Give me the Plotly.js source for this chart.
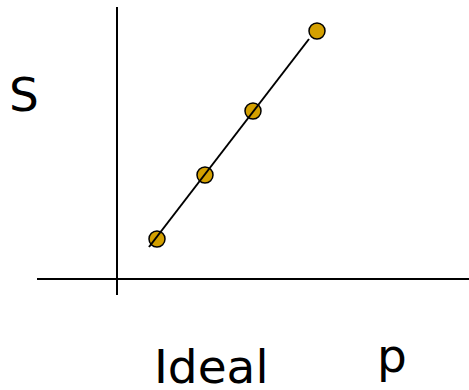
<!DOCTYPE html>
<html>
<head>
<meta charset="utf-8">
<script src="https://cdn.plot.ly/plotly-3.0.1.min.js"></script>
<style>
  html, body { margin:0; padding:0; background:#fff; }
  #chart { width:469px; height:390px; }
</style>
</head>
<body>
<div id="chart"></div>
<script>
// measured points (S vs p)
const pX = [2.5, 5.5, 8.5, 12.5];
const pY = [2.5, 6.5, 10.5, 15.5];

// ideal line ends
const lineX = [2, 12];
const lineY = [2, 15];

// axis extents
const axisXSpan = [-5, 22];
const axisYSpan = [-1, 17];

const labelS = "S";
const labelP = "p";
const labelIdeal = "Ideal";

const font = "DejaVu Sans, Verdana, sans-serif";

function axisLine(x0, y0, x1, y1){
  return {
    type: "line", xref: "x", yref: "y",
    x0, y0, x1, y1,
    line: { color: "#000", width: 2 }
  };
}

function label(x, y, text){
  return {
    x, y, xref: "x", yref: "y",
    text, showarrow: false,
    font: { family: font, size: 47, color: "#000" }
  };
}

Plotly.newPlot("chart", [
  {
    x: pX, y: pY,
    type: "scatter", mode: "markers",
    marker: { size: 16, color: "#D4A000", line: { color: "#000", width: 1.5 } },
    hoverinfo: "skip"
  },
  {
    x: lineX, y: lineY,
    type: "scatter", mode: "lines",
    line: { color: "#000", width: 2 },
    hoverinfo: "skip"
  }
], {
  width: 469, height: 390,
  margin: { l:0, r:0, t:0, b:0 },
  showlegend: false,
  paper_bgcolor: "#fff",
  plot_bgcolor: "#fff",
  xaxis: { range: [-7.3125, 22], visible: false, fixedrange: true },
  yaxis: { range: [-6.9375, 17.4375], visible: false, fixedrange: true },
  shapes: [
    axisLine(axisXSpan[0], 0, axisXSpan[1], 0),
    axisLine(0, axisYSpan[0], 0, axisYSpan[1])
  ],
  annotations: [
    label(-5.8, 11.55, labelS),
    label(17.2, -4.75, labelP),
    label(5.9, -5.45, labelIdeal)
  ]
}, { displayModeBar: false, staticPlot: true });
</script>
</body>
</html>
